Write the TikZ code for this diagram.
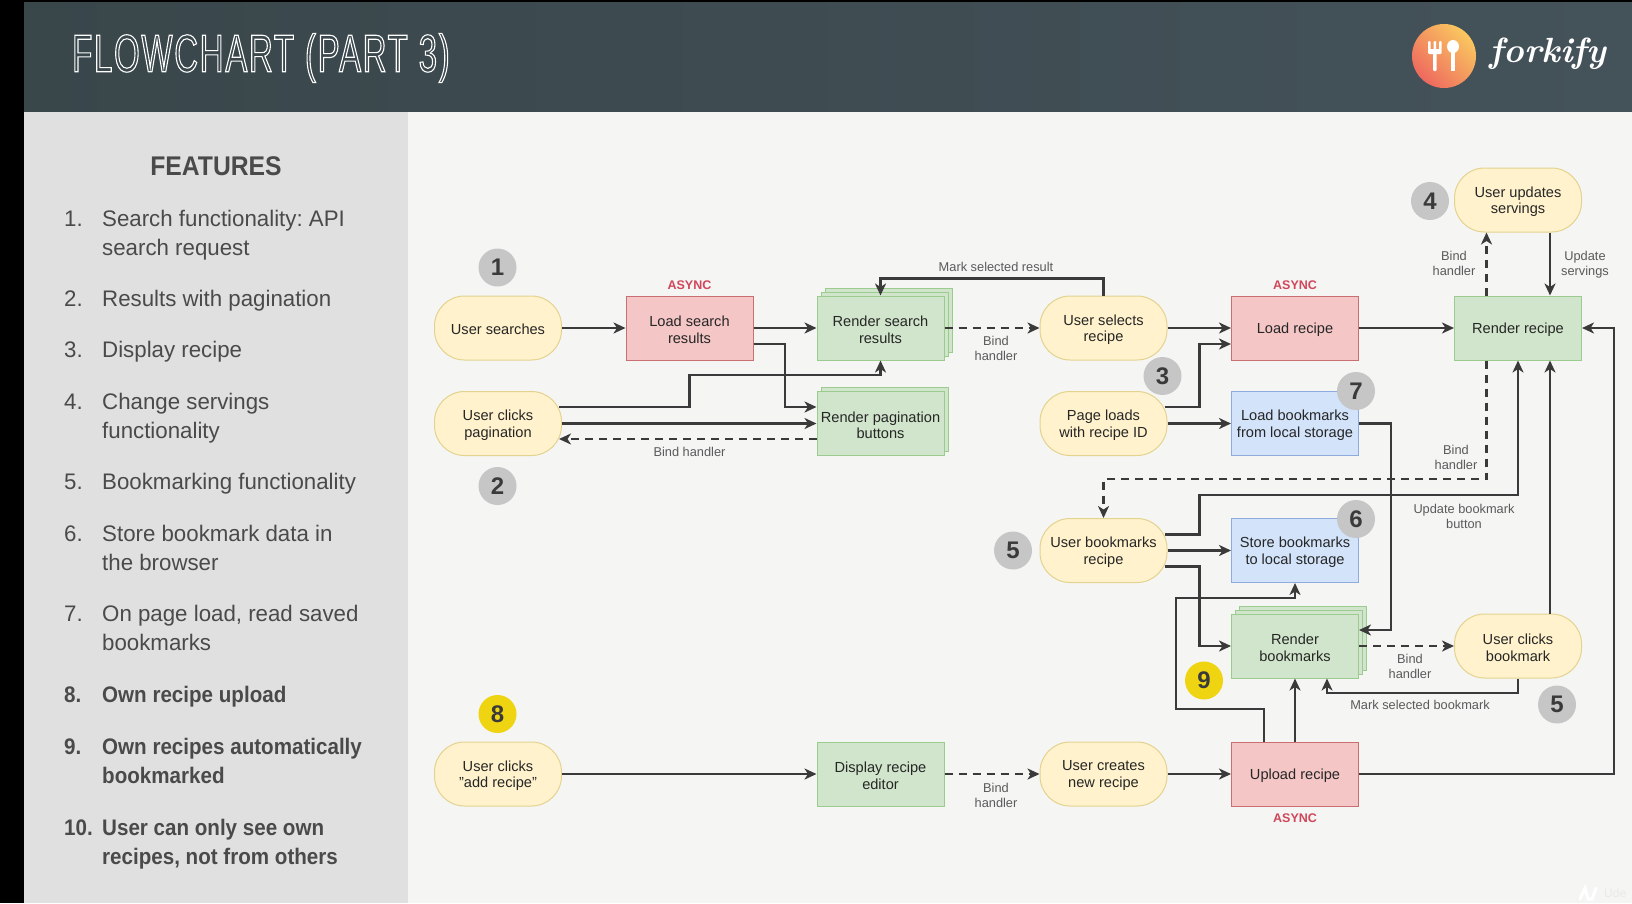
\documentclass[tikz,border=0pt]{standalone}
\usepackage{fontspec}
\setmainfont{Liberation Sans}
\newfontfamily\titlefont[FakeStretch=0.62,LetterSpace=3.4]{Liberation Sans}
\newfontfamily\sidereg[FakeStretch=0.99]{Liberation Sans}
\newfontfamily\sidebold[FakeStretch=0.915]{Liberation Sans}
\usetikzlibrary{arrows.meta,shapes.geometric,calc}
\frenchspacing
\definecolor{hdrL}{HTML}{39464A}
\definecolor{hdrR}{HTML}{44525A}
\definecolor{sidebg}{HTML}{E0E0E0}
\definecolor{mainbg}{HTML}{F5F5F4}
\definecolor{ink}{HTML}{3A3A3A}
\definecolor{sidetext}{HTML}{4A4A4A}
\definecolor{lbl}{HTML}{5A5A5A}
\definecolor{yfill}{HTML}{FFF2CC}\definecolor{ydraw}{HTML}{E3D38F}
\definecolor{rfill}{HTML}{F5C6C6}\definecolor{rdraw}{HTML}{C96F72}
\definecolor{gfill}{HTML}{D0E5CB}\definecolor{gdraw}{HTML}{9CCB8F}
\definecolor{bfill}{HTML}{D3E3FA}\definecolor{bdraw}{HTML}{8FAADC}
\definecolor{badgeg}{HTML}{C6C6C6}
\definecolor{badgey}{HTML}{EFD511}
\definecolor{asyncc}{HTML}{D0475A}
\definecolor{logoA}{RGB}{250,200,95}
\definecolor{logoB}{RGB}{238,105,95}
\definecolor{wmark}{HTML}{E9E9E9}
\newcommand\tl[1]{\raisebox{-1.6pt}[\height][\depth]{#1}}
\tikzset{
  boxtext/.style={font=\fontsize{14.6}{16.6}\selectfont,text=black!85,align=center,inner sep=0pt},
  userbox/.style={boxtext,rectangle,rounded corners=30pt,draw=ydraw,fill=yfill,line width=1pt,minimum width=127pt,minimum height=64pt},
  redbox/.style={boxtext,draw=rdraw,fill=rfill,line width=1pt,minimum width=127pt,minimum height=64pt},
  greenbox/.style={boxtext,draw=gdraw,fill=gfill,line width=1pt,minimum width=127pt,minimum height=64pt},
  bluebox/.style={boxtext,draw=bdraw,fill=bfill,line width=1pt,minimum width=127pt,minimum height=64pt},
  backsheet/.style={draw=gdraw,fill=gfill,line width=1pt,minimum width=127pt,minimum height=64pt,inner sep=0pt},
  badge/.style={circle,fill=badgeg,minimum size=38pt,inner sep=0pt,text=ink,font=\fontsize{24}{24}\selectfont\bfseries},
  yellowbadge/.style={badge,fill=badgey},
  note/.style={font=\fontsize{12.8}{15}\selectfont,text=lbl,align=center,inner sep=0pt},
  asynctag/.style={font=\fontsize{12.5}{13}\selectfont\bfseries,text=asyncc,inner sep=0pt},
  conn/.style={draw=ink,line width=2.4pt,-{Stealth[length=12pt,width=11pt,inset=3.5pt]}},
  dconn/.style={conn,dash pattern=on 8pt off 6pt},
  sideitem/.style={anchor=north west,font=\sidereg\fontsize{22.5}{29}\selectfont,text=sidetext,inner sep=0pt,align=left},
  sidenum/.style={anchor=north west,font=\sidereg\fontsize{22.5}{29}\selectfont,text=sidetext,inner sep=0pt},
  sidehi/.style={font=\sidebold\bfseries\fontsize{22.5}{29}\selectfont},
}
\begin{document}
\begin{tikzpicture}[x=1pt,y=-1pt]
\useasboundingbox (0,0) rectangle (1632,903);
\fill[black] (0,0) rectangle (1632,903);
\fill[mainbg] (24,108) rectangle (1632,903);
\fill[sidebg] (24,111) rectangle (408,903);
\shade[left color=hdrL,right color=hdrR] (24,2) rectangle (1632,111);
% title
\node[anchor=west,inner sep=0pt,text=white] (title) at (72,58)
  {\special{pdf:code 1 Tr 1.1 w 1 1 1 RG}\titlefont\fontsize{53}{53}\selectfont FLOWCHART (PART 3)\special{pdf:code 0 Tr}};
% logo
\shade[left color=logoA,right color=logoB,shading angle=-45] (1444,56) circle (32);
\fill[white,rounded corners=1pt] (1428,41) rectangle (1430.6,50) (1433.5,41) rectangle (1436.1,50) (1439,41) rectangle (1441.6,50) (1428,49) rectangle (1441.6,54) (1433,52) rectangle (1436.6,71);
\fill[white] (1453,46.5) ellipse (6 and 6.5);
\fill[white] (1451.2,50) rectangle (1454.8,71);
\node[inner sep=0pt,text=white,anchor=center] (brand) at (1548,54) {\fontspec{Latin Modern Roman}\itshape\bfseries\fontsize{35}{35}\selectfont forkify};
% sidebar
\node[inner sep=0pt,text=sidetext,font=\sidebold\bfseries\fontsize{27}{27}\selectfont] (featurestitle) at (216,166.5) {FEATURES};
\node[sidenum] (n1) at (64,210) {\vphantom{l}1.};
\node[sideitem] (s1) at (102,210) {Search functionality: API\\search request};
\node[sidenum] (n2) at (64,290) {\vphantom{l}2.};
\node[sideitem] (s2) at (102,290) {Results with pagination};
\node[sidenum] (n3) at (64,341) {\vphantom{l}3.};
\node[sideitem] (s3) at (102,341) {Display recipe};
\node[sidenum] (n4) at (64,393) {\vphantom{l}4.};
\node[sideitem] (s4) at (102,393) {Change servings\\functionality};
\node[sidenum] (n5) at (64,473) {\vphantom{l}5.};
\node[sideitem] (s5) at (102,473) {Bookmarking functionality};
\node[sidenum] (n6) at (64,525) {\vphantom{l}6.};
\node[sideitem] (s6) at (102,525) {Store bookmark data in\\the browser};
\node[sidenum] (n7) at (64,605) {\vphantom{l}7.};
\node[sideitem] (s7) at (102,605) {On page load, read saved\\bookmarks};
\node[sidenum,sidehi] (n8) at (64,686) {\vphantom{l}8.};
\node[sideitem,sidehi] (s8) at (102,686) {Own recipe upload};
\node[sidenum,sidehi] (n9) at (64,738) {\vphantom{l}9.};
\node[sideitem,sidehi] (s9) at (102,738) {Own recipes automatically\\bookmarked};
\node[sidenum,sidehi] (n10) at (64,818.5) {\vphantom{l}10.};
\node[sideitem,sidehi] (s10) at (102,818.5) {User can only see own\\recipes, not from others};
% back sheets
\node[backsheet] (rsb2) at (888.5,320) {};
\node[backsheet] (rsb1) at (884.5,324) {};
\node[backsheet] (rpb1) at (884.5,419) {};
\node[backsheet] (rbb2) at (1303,638.5) {};
\node[backsheet] (rbb1) at (1299,642) {};
% nodes
\node[userbox] (search) at (498,328) {\tl{User searches}};
\node[redbox] (loadsearch) at (689.5,328) {\tl{Load search}\\\tl{results}};
\node[greenbox] (rendersearch) at (880.5,328) {\tl{Render search}\\\tl{results}};
\node[userbox] (selects) at (1103.5,328) {\tl{User selects}\\\tl{recipe}};
\node[redbox] (loadrecipe) at (1295,328) {\tl{Load recipe}};
\node[greenbox] (renderrecipe) at (1518,328) {\tl{Render recipe}};
\node[userbox] (updates) at (1518,200) {\tl{User updates}\\\tl{servings}};
\node[userbox] (pagclick) at (498,423.5) {\tl{User clicks}\\\tl{pagination}};
\node[greenbox] (renderpag) at (880.5,423.5) {\tl{Render pagination}\\\tl{buttons}};
\node[userbox] (pageload) at (1103.5,423.5) {\tl{Page loads}\\\tl{with recipe ID}};
\node[bluebox] (loadbm) at (1295,423.5) {\tl{Load bookmarks}\\\tl{from local storage}};
\node[userbox] (bookmarks) at (1103.5,550.5) {\tl{User bookmarks}\\\tl{recipe}};
\node[bluebox] (storebm) at (1295,550.5) {\tl{Store bookmarks}\\\tl{to local storage}};
\node[greenbox] (renderbm) at (1295,646) {\tl{Render}\\\tl{bookmarks}};
\node[userbox] (clickbm) at (1518,646) {\tl{User clicks}\\\tl{bookmark}};
\node[userbox] (addrecipe) at (498,774) {\tl{User clicks}\\\tl{"add recipe"}};
\node[greenbox] (editor) at (880.5,774) {\tl{Display recipe}\\\tl{editor}};
\node[userbox] (creates) at (1103.5,774) {\tl{User creates}\\\tl{new recipe}};
\node[redbox] (upload) at (1295,774) {\tl{Upload recipe}};
% connectors
\draw[conn] (search) -- (loadsearch);
\draw[conn] (loadsearch) -- (rendersearch);
\draw[dconn] (rendersearch) -- (selects);
\draw[conn] (selects) -- (loadrecipe);
\draw[conn] (loadrecipe) -- (renderrecipe);
\draw[conn] (selects.north) -- ++(0,-17) -| (rendersearch.north);
\draw[conn] ([yshift=-16pt]loadsearch.east) -- (785,344) |- ([yshift=16.5pt]renderpag.west);
\draw[conn] ([xshift=-3pt,yshift=16.5pt]pagclick.east) -- (689.5,407) -- (689.5,375) -| (rendersearch.south);
\draw[conn] (pagclick) -- (renderpag);
\draw[dconn] ([yshift=-15.5pt]renderpag.west) -- ([xshift=-3pt,yshift=-15.5pt]pagclick.east);
\draw[conn] ([xshift=-3pt,yshift=16.5pt]pageload.east) -- (1199.5,407) |- ([yshift=-16pt]loadrecipe.west);
\draw[conn] (pageload) -- (loadbm);
\draw[conn] (loadbm.east) -- (1391,423.5) |- ([yshift=16pt]renderbm.east);
\draw[dconn] ([xshift=-31.5pt]renderrecipe.south) -- (1486.5,479) -| (bookmarks.north);
\draw[conn] ([xshift=-3pt,yshift=16pt]bookmarks.east) -- (1199.5,534.5) -- (1199.5,495) -| (renderrecipe.south);
\draw[conn] (bookmarks) -- (storebm);
\draw[conn] ([xshift=-3pt,yshift=-16pt]bookmarks.east) -- (1199.5,566.5) |- (renderbm.west);
\draw[conn] ([xshift=-31pt]upload.north) -- (1264,709) -- (1175.7,709) -- (1175.7,598) -| (storebm.south);
\draw[conn] (upload) -- (renderbm);
\draw[dconn] (renderbm) -- (clickbm);
\draw[conn] (clickbm.south) -- (1518,693) -| ([xshift=32pt]renderbm.south);
\draw[conn] ([xshift=32pt]clickbm.north) -- ([xshift=32pt]renderrecipe.south);
\draw[conn] ([xshift=32pt]updates.south) -- ([xshift=32pt]renderrecipe.north);
\draw[dconn] ([xshift=-31.5pt]renderrecipe.north) -- ([xshift=-31.5pt]updates.south);
\draw[conn] (upload.east) -- (1614,774) |- (renderrecipe.east);
\draw[conn] (addrecipe) -- (editor);
\draw[dconn] (editor) -- (creates);
\draw[conn] (creates) -- (upload);
% labels
\node[asynctag] (a1) at (689.5,285) {ASYNC};
\node[asynctag] (a2) at (1295,285) {ASYNC};
\node[asynctag] (a3) at (1295,818) {ASYNC};
\node[note] (l1) at (996,267) {Mark selected result};
\node[note] (l2) at (996,348.5) {Bind\\handler};
\node[note] (l3) at (689.5,452) {Bind handler};
\node[note] (l4) at (1454,263) {Bind\\handler};
\node[note] (l5) at (1585,265) {Update\\servings};
\node[note] (l6) at (1456,457) {Bind\\handler};
\node[note] (l7) at (1464,516) {Update bookmark\\button};
\node[note] (l8) at (1410,666) {Bind\\handler};
\node[note] (l9) at (1420,705) {Mark selected bookmark};
\node[note] (l10) at (996,795) {Bind\\handler};
% badges
\node[badge] (b1) at (497.5,267.5) {1};
\node[badge] (b2) at (497.5,486) {2};
\node[badge] (b3) at (1162.5,376) {3};
\node[badge] (b4) at (1430,201) {4};
\node[badge] (b5a) at (1013,550.5) {5};
\node[badge] (b5b) at (1557,704.5) {5};
\node[badge] (b6) at (1356,519) {6};
\node[badge] (b7) at (1356,391) {7};
\node[yellowbadge] (b8) at (497.5,714) {8};
\node[yellowbadge] (b9) at (1204,680.5) {9};
% watermark
\draw[white,line width=3pt,line cap=round] (1580,899) -- (1585,888) -- (1588,899) -- (1592,899) -- (1596,888);
\node[anchor=west,inner sep=0pt,text=wmark,font=\fontsize{12}{12}\selectfont] (wm) at (1604,893) {Ude};
\end{tikzpicture}
\end{document}
